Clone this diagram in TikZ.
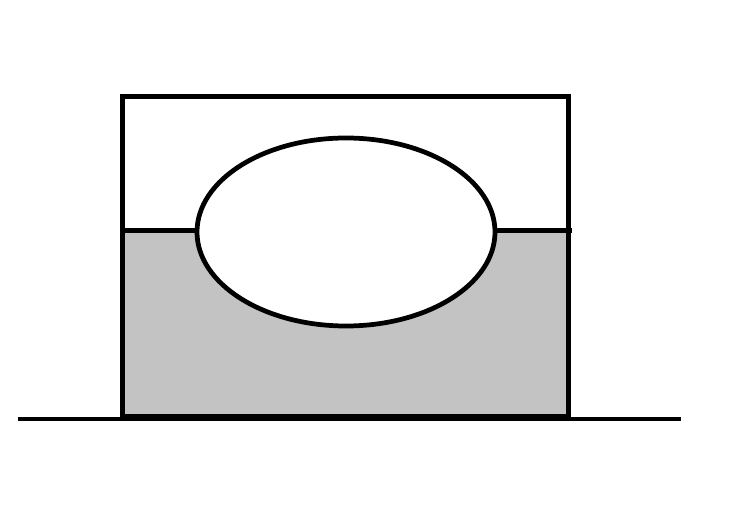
\documentclass[tikz,border=0pt]{standalone}
\usepackage{tikz}
\usetikzlibrary{calc}

\definecolor{wasser}{HTML}{C3C3C3}
\tikzset{kontur/.style={line width=2.7pt, black}}

\begin{document}
\begin{tikzpicture}
		\useasboundingbox (0,0) rectangle (14.84,10.1);
		% Wasser im Behaelter
		\fill[wasser] (2.45,1.77) rectangle (11.37,5.49);
		\fill[white] (6.92,5.46) ellipse [x radius=2.98, y radius=1.88];
		\draw[kontur] (2.45,5.49) -- (3.96,5.49);
		\draw[kontur] (9.88,5.49) -- (11.44,5.49);
		% Koerper
		\draw[kontur] (6.92,5.46) ellipse [x radius=2.98, y radius=1.88];
		% Behaelter
		\draw[kontur] (2.45,1.77) rectangle (11.37,8.17);
		% Boden
		\draw[kontur] (0.36,1.72) -- (13.62,1.72);
		\end{tikzpicture}
\end{document}
